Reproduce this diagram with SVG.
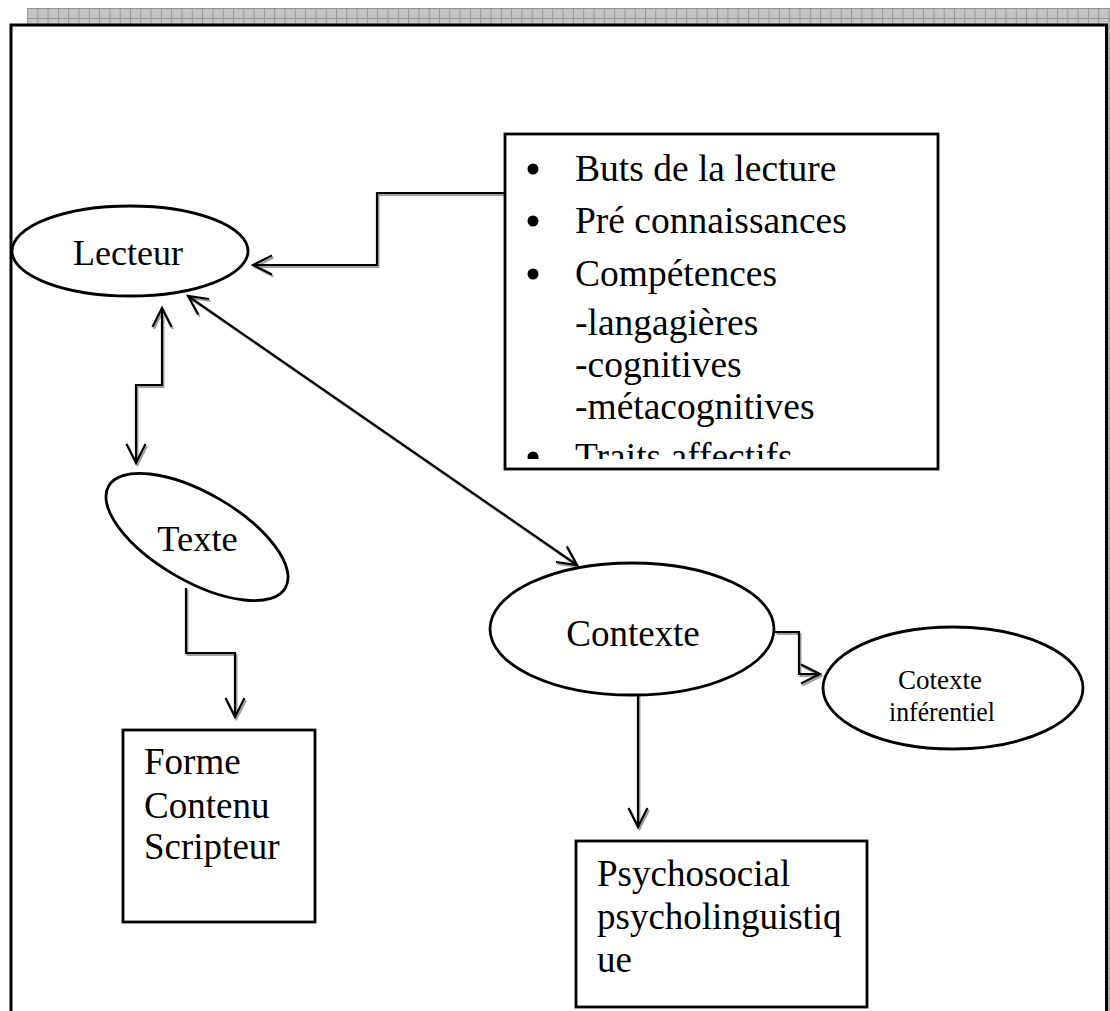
<svg xmlns="http://www.w3.org/2000/svg" width="1110" height="1011" viewBox="0 0 1110 1011">
<style>
  .shape { fill: #fff; stroke: #000; stroke-width: 2.8; }
  .t { font-family: "Liberation Serif", "Times New Roman", serif; fill: #000; }
  .conn { fill: none; stroke: #000; stroke-width: 2.2; marker-end: url(#arrow); }
  .both { marker-start: url(#arrow); }
  .shadow { fill: none; stroke: #a0a0a0; stroke-width: 2; marker-end: url(#arrowS); }
  .shadow.bothS { marker-start: url(#arrowS); }
</style>
<defs>
  <pattern id="hatch" patternUnits="userSpaceOnUse" x="27" y="8" width="10.3" height="10">
    <rect width="10.3" height="10" fill="#c4c4c4"/>
    <path d="M0.5,0 V10 M0,0.5 H10.3" stroke="#969696" stroke-width="1"/>
  </pattern>
  <marker id="arrow" markerUnits="userSpaceOnUse" viewBox="-2 -2 26 26" markerWidth="26" markerHeight="26" refX="20" refY="10" orient="auto-start-reverse">
    <path d="M1,0.5 L20,10 L1,19.5" fill="none" stroke="#000" stroke-width="2.2"/>
  </marker>
  <marker id="arrowS" markerUnits="userSpaceOnUse" viewBox="-2 -2 26 26" markerWidth="26" markerHeight="26" refX="20" refY="10" orient="auto-start-reverse">
    <path d="M1,0.5 L20,10 L1,19.5" fill="none" stroke="#a0a0a0" stroke-width="2"/>
  </marker>
  <clipPath id="boxclip"><rect x="506" y="135" width="431" height="324"/></clipPath>
</defs>

<rect width="1110" height="1011" fill="#fff"/>

<g id="frame">
  <rect x="27" y="8" width="1083" height="16" fill="url(#hatch)"/>
  <rect x="1108" y="24" width="2" height="987" fill="url(#hatch)"/>
  <path d="M11,1011 V25 H1106.5 V1011" fill="none" stroke="#000" stroke-width="3"/>
</g>

<g id="connectors">
  <g transform="translate(1.5,2)">
    <path class="shadow" d="M505,193 H377 V265 H253"/>
    <path class="shadow bothS" d="M162,308 V385 H136 V463"/>
    <path class="shadow bothS" d="M188,296 L577,565"/>
    <path class="shadow" d="M186,588 V653 H235 V717"/>
    <path class="shadow" d="M775,632 H799 V674 H820"/>
    <path class="shadow" d="M638,677 V827"/>
  </g>
  <path class="conn" d="M505,193 H377 V265 H253"/>
  <path class="conn both" d="M162,308 V385 H136 V463"/>
  <path class="conn both" d="M188,296 L577,565"/>
  <path class="conn" d="M186,588 V653 H235 V717"/>
  <path class="conn" d="M775,632 H799 V674 H820"/>
  <path class="conn" d="M638,677 V827"/>
</g>

<g id="lecteur">
  <ellipse class="shape" cx="130" cy="251" rx="118" ry="45"/>
  <text class="t" x="128" y="265" font-size="36" text-anchor="middle">Lecteur</text>
</g>

<g id="facteurs">
  <rect class="shape" x="505" y="134" width="433" height="335"/>
  <g clip-path="url(#boxclip)">
    <circle cx="533" cy="169" r="5.5"/>
    <circle cx="533" cy="221" r="5.5"/>
    <circle cx="533" cy="274" r="5.5"/>
    <circle cx="533" cy="457" r="5.5"/>
    <g class="t" font-size="37.5">
      <text x="575" y="181">Buts de la lecture</text>
      <text x="575" y="233">Pré connaissances</text>
      <text x="575" y="286">Compétences</text>
      <text x="575" y="335">-langagières</text>
      <text x="575" y="377">-cognitives</text>
      <text x="575" y="419">-métacognitives</text>
      <text x="575" y="469">Traits affectifs</text>
    </g>
  </g>
</g>

<g id="texte">
  <ellipse class="shape" cx="197" cy="537" rx="102" ry="44" transform="rotate(30 197 537)"/>
  <text class="t" x="197.5" y="551" font-size="36.5" text-anchor="middle">Texte</text>
</g>

<g id="contexte">
  <ellipse class="shape" cx="632" cy="629" rx="142" ry="66"/>
  <text class="t" x="633" y="646" font-size="37" text-anchor="middle">Contexte</text>
</g>

<g id="cotexte">
  <ellipse class="shape" cx="953" cy="688" rx="130" ry="61"/>
  <text class="t" x="940" y="689" font-size="28" text-anchor="middle" textLength="84" lengthAdjust="spacingAndGlyphs">Cotexte</text>
  <text class="t" x="942" y="721" font-size="28" text-anchor="middle" textLength="106" lengthAdjust="spacingAndGlyphs">inférentiel</text>
</g>

<g id="forme">
  <rect class="shape" x="123" y="730" width="192" height="192"/>
  <g class="t" font-size="37">
    <text x="144" y="774">Forme</text>
    <text x="144" y="818">Contenu</text>
    <text x="144" y="859">Scripteur</text>
  </g>
</g>

<g id="psycho">
  <rect class="shape" x="576" y="841" width="291" height="166"/>
  <g class="t" font-size="37">
    <text x="597" y="886">Psychosocial</text>
    <text x="597" y="929">psycholinguistiq</text>
    <text x="597" y="972">ue</text>
  </g>
</g>
</svg>
